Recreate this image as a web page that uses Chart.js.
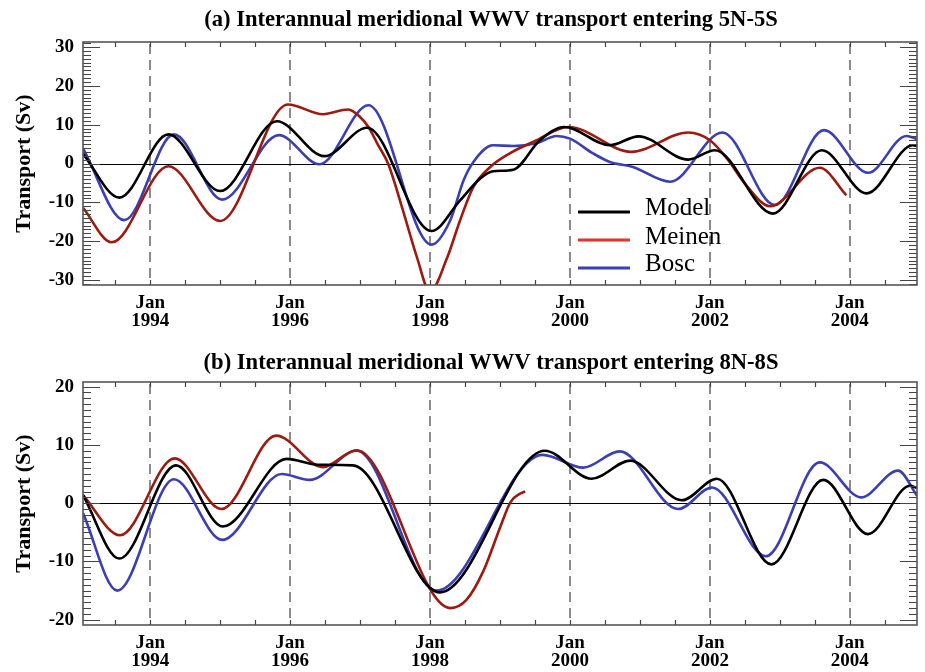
<!DOCTYPE html>
<html>
<head>
<meta charset="utf-8">
<script src="https://cdn.jsdelivr.net/npm/chart.js@4"></script>
<style>
  body { margin: 0; background: #fff; }
  #wrap { position: relative; width: 925px; height: 672px; }
  canvas { position: absolute; left: 0; }
</style>
</head>
<body>
<div id="wrap">
  <canvas id="chartA" width="925" height="340" style="top:0"></canvas>
  <canvas id="chartB" width="925" height="332" style="top:340px"></canvas>
</div>
<script>
// tick labels
var yearTicks = [1994, 1996, 1998, 2000, 2002, 2004];
var ticksA = [-30, -20, -10, 0, 10, 20, 30];
var ticksB = [-20, -10, 0, 10, 20];

// (a) 5N-5S, time in decimal years, transport in Sv
var modelA_t = [1993.04, 1993.56, 1994.26, 1995.0, 1995.81, 1996.49, 1997.1, 1998.02, 1998.43, 1998.71, 1998.9, 1999.19, 1999.57, 1999.92, 2000.57, 2000.98, 2001.69, 2002.07, 2002.9, 2003.6, 2004.24, 2004.9, 2004.96];
var modelA_v = [2.5, -8.8, 7.5, -7.1, 10.9, 1.9, 9.2, -17.4, -9.5, -4.0, -2.0, -1.6, 6.0, 9.4, 4.7, 7.0, 1.0, 3.4, -12.9, 3.4, -7.7, 4.7, 4.5];

var meinenA_t = [1993.04, 1993.45, 1994.26, 1995.0, 1995.97, 1996.47, 1996.83, 1997.0, 1997.12, 1997.25, 1997.4, 1997.62, 1997.81, 1998.0, 1998.24, 1998.43, 1998.62, 1998.86, 1999.14, 1999.48, 1999.98, 2000.88, 2001.69, 2002.0, 2002.26, 2002.5, 2002.86, 2003.57, 2003.95];
var meinenA_v = [-11.4, -20.3, -0.7, -14.8, 15.2, 12.7, 13.9, 12.0, 9.4, 5.0, 0, -12.5, -24.0, -33.0, -24.5, -14.6, -6.0, -0.9, 2.6, 5.6, 9.4, 3.0, 8.0, 6.0, 0.9, -5.2, -11.0, -1.1, -8.2];

var boscA_t = [1993.04, 1993.63, 1994.34, 1995.03, 1995.84, 1996.42, 1997.12, 1998.02, 1998.29, 1998.48, 1998.62, 1998.9, 1999.19, 1999.52, 1999.81, 2000.0, 2000.33, 2000.57, 2000.9, 2001.43, 2002.18, 2002.93, 2003.63, 2004.26, 2004.81, 2004.96];
var boscA_v = [3.9, -14.6, 7.5, -9.3, 7.3, -0.2, 15.0, -20.9, -14.6, -4.3, 0.4, 4.7, 4.5, 5.2, 7.1, 6.4, 2.6, 0.4, -0.9, -4.7, 8.0, -10.7, 8.6, -2.4, 7.1, 6.3];

// (b) 8N-8S
var modelB_t = [1993.04, 1993.56, 1994.37, 1995.04, 1995.95, 1996.4, 1996.9, 1998.14, 1999.64, 2000.31, 2000.86, 2001.6, 2002.1, 2002.88, 2003.62, 2004.26, 2004.86, 2004.96];
var modelB_v = [1.4, -9.5, 6.5, -4.0, 7.6, 6.6, 6.5, -15.3, 9.0, 4.2, 7.3, 0.5, 4.2, -10.5, 4.0, -5.3, 3.0, 2.6];

var meinenB_t = [1993.04, 1993.57, 1994.35, 1995.02, 1995.8, 1996.47, 1996.95, 1998.29, 1998.52, 1998.76, 1999.0, 1999.15, 1999.28, 1999.36];
var meinenB_v = [1.4, -5.5, 7.7, -1.0, 11.6, 6.2, 9.1, -18.0, -16.6, -11.7, -4.2, 0.2, 1.6, 2.0];

var boscB_t = [1993.04, 1993.53, 1994.34, 1995.03, 1995.88, 1996.28, 1996.95, 1998.09, 1999.61, 2000.19, 2000.71, 2001.55, 2002.03, 2002.8, 2003.57, 2004.16, 2004.69, 2004.96];
var boscB_v = [-1.7, -15.0, 4.1, -6.3, 5.0, 4.0, 9.0, -15.0, 8.3, 6.1, 8.9, -1.0, 2.7, -9.1, 7.0, 1.0, 5.6, 1.3];

var serif = '"Liberation Serif", "Times New Roman", serif';
var colModel = '#000000', colMeinen = '#9b1b10', colBosc = '#3b3fb3', colMeinenKey = '#e2332a';

var pts = function (t, v) {
    return t.map(function (x, i) { return { x: x, y: v[i] }; });
};

var line = function (label, t, v, color) {
    return { label: label, data: pts(t, v), borderColor: color, backgroundColor: color };
};

// dashed year lines, zero line, inward ticks and frame
var framePlugin = {
    id: 'frame',
    beforeDatasetsDraw: function (chart) {
        var ctx = chart.ctx, a = chart.chartArea, xs = chart.scales.x, ys = chart.scales.y;
        ctx.save();
        ctx.strokeStyle = '#666';
        ctx.lineWidth = 1.5;
        ctx.setLineDash([10, 6]);
        yearTicks.forEach(function (yr) {
            var x = Math.round(xs.getPixelForValue(yr));
            ctx.beginPath();
            ctx.moveTo(x, a.top + 2);
            ctx.lineTo(x, a.bottom);
            ctx.stroke();
        });
        ctx.setLineDash([]);
        ctx.strokeStyle = '#000';
        ctx.lineWidth = 1;
        var y0 = Math.round(ys.getPixelForValue(0)) + 0.5;
        ctx.beginPath();
        ctx.moveTo(a.left, y0);
        ctx.lineTo(a.right, y0);
        ctx.stroke();
        ctx.restore();
    },
    afterDraw: function (chart) {
        var ctx = chart.ctx, a = chart.chartArea, xs = chart.scales.x, ys = chart.scales.y;
        ctx.save();
        ctx.strokeStyle = '#444';
        ctx.lineWidth = 1.2;
        for (var t = 1993.5; t < xs.max; t += 0.5) {
            var x = Math.round(xs.getPixelForValue(t)) + 0.5;
            ctx.beginPath();
            ctx.moveTo(x, a.bottom); ctx.lineTo(x, a.bottom - 5);
            ctx.moveTo(x, a.top); ctx.lineTo(x, a.top + 5);
            ctx.stroke();
        }
        for (var v = Math.ceil(ys.min); v <= ys.max; v++) {
            var y = Math.round(ys.getPixelForValue(v)) + 0.5;
            var len = v % 10 === 0 ? 17 : 8;
            ctx.beginPath();
            ctx.moveTo(a.left, y); ctx.lineTo(a.left + len, y);
            ctx.moveTo(a.right, y); ctx.lineTo(a.right - len, y);
            ctx.stroke();
        }
        ctx.strokeStyle = '#555';
        ctx.lineWidth = 1.6;
        ctx.strokeRect(a.left, a.top, a.right - a.left, a.bottom - a.top);
        ctx.restore();
    }
};

// panel heading, placed like the original figure
var headPlugin = {
    id: 'head',
    afterDraw: function (chart, args, opts) {
        var ctx = chart.ctx;
        ctx.save();
        ctx.fillStyle = '#000';
        ctx.font = 'bold 22.6px ' + serif;
        ctx.textAlign = 'center';
        ctx.textBaseline = 'middle';
        ctx.fillText(opts.text, 491, opts.y);
        ctx.restore();
    }
};

// legend inside panel (a)
var keyPlugin = {
    id: 'key',
    afterDraw: function (chart, args, opts) {
        if (!opts.show) return;
        var ctx = chart.ctx;
        var items = [['Model', colModel, 212, 208], ['Meinen', colMeinenKey, 240, 237], ['Bosc', colBosc, 268, 264]];
        ctx.save();
        ctx.font = '25px ' + serif;
        ctx.textBaseline = 'middle';
        items.forEach(function (it) {
            ctx.strokeStyle = it[1];
            ctx.lineWidth = 3;
            ctx.beginPath();
            ctx.moveTo(578, it[2]); ctx.lineTo(630, it[2]);
            ctx.stroke();
            ctx.fillStyle = '#000';
            ctx.fillText(it[0], 645, it[3]);
        });
        ctx.restore();
    }
};

var makeChart = function (id, datasets, yMin, yMax, yTicks, axisHeight, head, headY, showKey) {
    var tickFont = { family: serif, size: 19, weight: 'bold', lineHeight: 0.95 };
    return new Chart(document.getElementById(id), {
        type: 'line',
        data: { datasets: datasets },
        plugins: [framePlugin, headPlugin, keyPlugin],
        options: {
            responsive: false,
            animation: false,
            devicePixelRatio: 1,
            layout: { padding: { top: 42, right: 8, left: 0, bottom: 0 } },
            elements: {
                point: { radius: 0 },
                line: { borderWidth: 2.6, cubicInterpolationMode: 'monotone' }
            },
            plugins: {
                legend: { display: false },
                tooltip: { enabled: false },
                head: { text: head, y: headY },
                key: { show: showKey }
            },
            scales: {
                x: {
                    type: 'linear',
                    min: 1993.04,
                    max: 2004.96,
                    afterBuildTicks: function (s) {
                        s.ticks = yearTicks.map(function (v) { return { value: v }; });
                    },
                    afterFit: function (s) { s.height = axisHeight; },
                    grid: { display: false, drawTicks: false },
                    border: { display: false },
                    ticks: {
                        autoSkip: false,
                        maxRotation: 0,
                        padding: 9,
                        color: '#000',
                        font: tickFont,
                        callback: function (v) { return ['Jan', String(v)]; }
                    }
                },
                y: {
                    min: yMin,
                    max: yMax,
                    afterBuildTicks: function (s) {
                        s.ticks = yTicks.map(function (v) { return { value: v }; });
                    },
                    afterFit: function (s) { s.width = 83; },
                    grid: { display: false, drawTicks: false },
                    border: { display: false },
                    ticks: {
                        padding: 9,
                        color: '#000',
                        font: tickFont,
                        callback: function (v) { return String(v); }
                    },
                    title: {
                        display: true,
                        text: 'Transport (Sv)',
                        color: '#000',
                        font: { family: serif, size: 22, weight: 'bold' },
                        padding: { top: 11, bottom: 0 }
                    }
                }
            }
        }
    });
};

makeChart('chartA', [
    line('Model', modelA_t, modelA_v, colModel),
    line('Meinen', meinenA_t, meinenA_v, colMeinen),
    line('Bosc', boscA_t, boscA_v, colBosc)
], -31.3, 31.3, ticksA, 55, '(a) Interannual meridional WWV transport entering 5N-5S', 20, true);

makeChart('chartB', [
    line('Model', modelB_t, modelB_v, colModel),
    line('Meinen', meinenB_t, meinenB_v, colMeinen),
    line('Bosc', boscB_t, boscB_v, colBosc)
], -20.9, 20.8, ticksB, 47, '(b) Interannual meridional WWV transport entering 8N-8S', 23, false);
</script>
</body>
</html>
